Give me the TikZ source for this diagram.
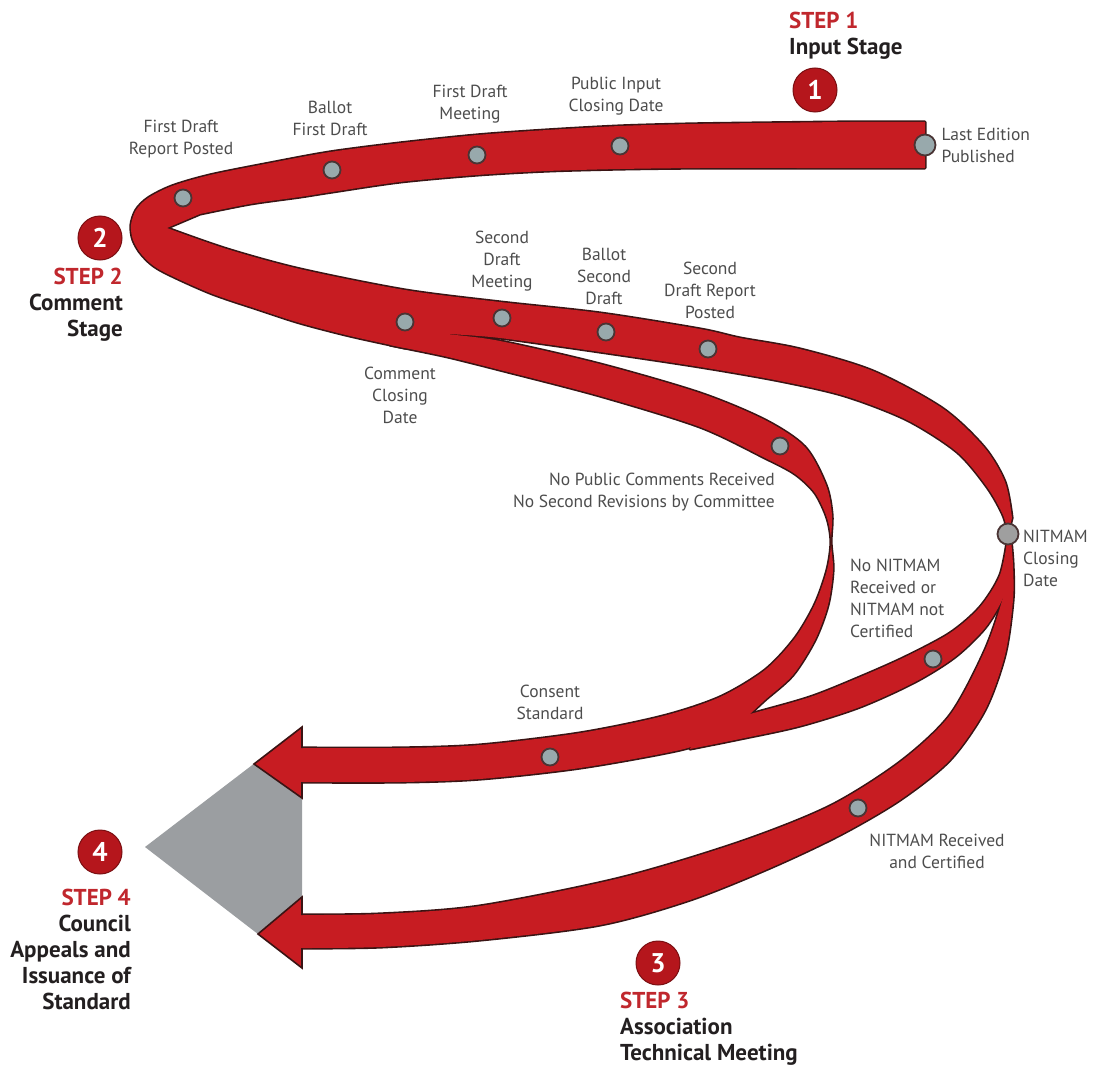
\documentclass[tikz,border=0pt]{standalone}
\usepackage{fontspec}
\setmainfont{PT Sans}
\usepackage{tikz}
\usetikzlibrary{positioning}
\usepackage{xcolor}
\definecolor{ribbonred}{HTML}{C71C22}
\definecolor{ribbonedge}{HTML}{3A1414}
\definecolor{badgered}{HTML}{B5161C}
\definecolor{badgeedge}{HTML}{7A0F12}
\definecolor{stepred}{HTML}{C0272D}
\definecolor{stageblack}{HTML}{231F20}
\definecolor{labelgray}{HTML}{4D4D4D}
\definecolor{dotfill}{HTML}{98A9AC}
\definecolor{dotedge}{HTML}{4A3434}
\definecolor{headgray}{HTML}{9B9EA1}

% ribbon outlines (pixel coordinates), used once for the edge and once for the fill
\newcommand{\ribMain}{%
  plot[smooth] coordinates {(925,122) (850,122) (760,123) (690,124) (620,126) (547,130) (477,135) (400,143) (330,152) (270,163) (210,175) (172,186) (148,198) (136,210) (131,225) (133,240) (142,255) (160,270) (210,293) (260,310) (300,323) (350,336) (405,348)}
  -- plot[smooth] coordinates {(448,334) (500,338) (600,352) (700,367) (780,381) (845,396) (907,420) (957,452) (987,487) (1003,515) (1008,534)}
  -- plot[smooth] coordinates {(1012,518) (1005,482) (984,447) (942,408) (873,371) (800,349) (740,338) (700,329) (600,313) (500,302) (405,290) (300,269) (227,249) (167,228)}
  -- plot[smooth] coordinates {(200,214) (250,204) (300,197) (332,192) (400,182) (477,175) (547,171) (620,169) (700,168) (800,168) (925,168)}
  -- cycle}
\newcommand{\ribLower}{%
  plot[smooth] coordinates {(390,324) (420,329) (448,334) (500,341) (600,364) (700,393) (765,420) (805,447) (826,485) (832,515) (831,542) (833,570) (828,605) (815,640) (793,675) (765,700) (750,714)}
  -- plot[smooth] coordinates {(720,736) (680,750) (580,768) (480,779) (400,782) (296,782)}
  -- plot[smooth] coordinates {(296,748) (400,748) (480,745) (580,733) (663,716) (720,697) (765,670) (795,638) (815,604) (827,570) (831,542) (827,518) (815,493) (795,474) (765,458) (700,427) (600,396) (500,370) (448,357) (405,348) (390,345)}
  -- cycle}
\newcommand{\ribNoNit}{%
  plot[smooth] coordinates {(1008,536) (1000,575) (980,607) (950,633) (905,657) (860,677) (810,697) (750,714) (700,727)}
  -- plot[smooth] coordinates {(690,749) (740,739) (800,726) (860,707) (915,682) (955,657) (985,628) (1003,598) (1011,568) (1010,540)}
  -- cycle}
\newcommand{\ribNitRec}{%
  plot[smooth] coordinates {(1007,542) (1004,575) (1003,597) (985,650) (950,715) (900,762) (830,806) (740,842) (620,878) (480,906) (380,914) (296,915)}
  -- plot[smooth] coordinates {(296,948) (380,947) (480,940) (600,925) (690,900) (770,868) (840,835) (900,800) (950,760) (985,710) (1005,655) (1013,600) (1013,565) (1011,540)}
  -- cycle}

\begin{document}
\begin{tikzpicture}[x=1pt, y=-1pt,
    ribedge/.style={draw=ribbonedge, line width=3.2pt, line join=round},
    ribfill/.style={fill=ribbonred},
    headtip/.style={fill=ribbonred, draw=ribbonedge, line width=1.6pt, line join=miter},
    datedot/.style={circle, fill=dotfill, draw=dotedge, line width=1.8pt, minimum size=17pt, inner sep=0pt},
    bigdot/.style={datedot, minimum size=21pt},
    stepbadge/.style={circle, fill=badgered, draw=badgeedge, line width=1pt, minimum size=44pt, inner sep=0pt, text=white, font=\bfseries\fontsize{27}{27}\selectfont},
    lbl/.style={font=\fontsize{17.5}{22}\selectfont, text=labelgray, align=center, inner sep=0pt},
    stagetxt/.style={font=\bfseries\fontsize{23}{26}\selectfont, text=stageblack, inner sep=0pt}
]
\useasboundingbox (0,0) rectangle (1094,1070);

% Grey wedge behind the two arrow heads
\fill[headgray] (145,847) -- (302,727) -- (302,968) -- cycle;

% Ribbons: all edges first, then all fills, so joins merge
\draw[ribedge] \ribNitRec;
\draw[ribedge] \ribLower;
\draw[ribedge] \ribNoNit;
\draw[ribedge] \ribMain;
\fill[ribfill] \ribNitRec;
\fill[ribfill] \ribLower;
\fill[ribfill] \ribNoNit;
\fill[ribfill] \ribMain;

% Arrow heads into Step 4
\filldraw[headtip] (302,748) -- (302,727) -- (254,764) -- (302,798) -- (302,782);
\filldraw[headtip] (302,915) -- (302,897) -- (258,934) -- (302,968) -- (302,948);

% Milestones on the ribbons
\node[bigdot] (lasted) at (925,145) {};
\node[datedot] (pubin) at (620,146) {};
\node[datedot] (fdmeet) at (477,155) {};
\node[datedot] (balfirst) at (332,170) {};
\node[datedot] (fdposted) at (183,198) {};
\node[datedot] (comclose) at (405,322) {};
\node[datedot] (sdmeet) at (502,318) {};
\node[datedot] (balsecond) at (606,332) {};
\node[datedot] (sdposted) at (708,349) {};
\node[datedot] (nopub) at (780,446) {};
\node[bigdot, fill=gray!75] (nitclose) at (1008,534) {};
\node[datedot] (nonit) at (933,659) {};
\node[datedot] (consent) at (550,757) {};
\node[datedot] (nitrec) at (858,808) {};

% Milestone labels
\node[lbl, align=left, right=5pt of lasted] (lasted-text) {Last Edition\\Published};
\node[lbl] (pubin-text) at (616,96) {Public Input\\Closing Date};
\node[lbl] (fdmeet-text) at (470,104) {First Draft\\Meeting};
\node[lbl] (balfirst-text) at (330,118) {Ballot\\First Draft};
\node[lbl] (fdposted-text) at (181,139) {First Draft\\Report Posted};
\node[lbl] (sdmeet-text) at (502,261) {Second\\Draft\\Meeting};
\node[lbl] (balsecond-text) at (604,276) {Ballot\\Second\\Draft};
\node[lbl] (sdposted-text) at (710,290) {Second\\Draft Report\\Posted};
\node[lbl] (comclose-text) at (400,395) {Comment\\Closing\\Date};
\node[lbl, align=right, anchor=east] (nopub-text) at (775,492) {No Public Comments Received\\No Second Revisions by Committee};
\node[lbl, align=left, anchor=west] (nitclose-text) at (1023,558) {NITMAM\\Closing\\Date};
\node[lbl, align=left, anchor=west] (nonit-text) at (850,598) {No NITMAM\\Received or\\NITMAM not\\Certified};
\node[lbl] (consent-text) at (550,702) {Consent\\Standard};
\node[lbl] (nitrec-text) at (937,851) {NITMAM Received\\and Certified};

% Step badges and stage names
\node[stepbadge] (step1) at (815,90) {1};
\node[stepbadge] (step2) at (100,238) {2};
\node[stepbadge] (step3) at (658,963) {3};
\node[stepbadge] (step4) at (100,852) {4};
\node[stagetxt, align=left, anchor=west] (step1-text) at (789,36) {\textcolor{stepred}{STEP 1}\\Input Stage};
\node[stagetxt, align=right, anchor=east] (step2-text) at (123,305) {\textcolor{stepred}{STEP 2}\\Comment\\Stage};
\node[stagetxt, align=left, anchor=west] (step3-text) at (620,1029) {\textcolor{stepred}{STEP 3}\\Association\\Technical Meeting};
\node[stagetxt, align=right, anchor=east] (step4-text) at (131,949) {\textcolor{stepred}{STEP 4}\\Council\\Appeals and\\Issuance of\\Standard};

\end{tikzpicture}
\end{document}
